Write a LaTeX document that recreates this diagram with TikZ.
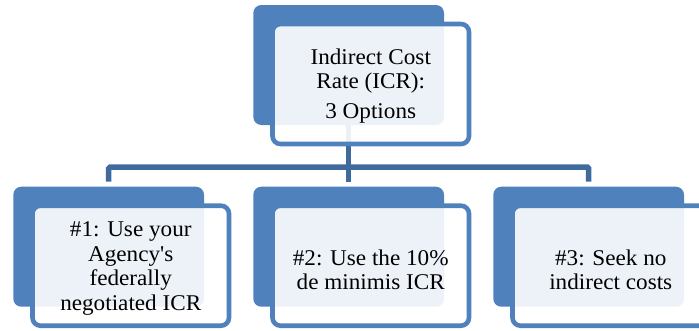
\documentclass[tikz,border=0pt]{standalone}
\usepackage{fontspec}
\setmainfont{Liberation Serif}[Ligatures=TeXOff, FakeStretch=1.03]
\usetikzlibrary{calc}
\definecolor{accent}{HTML}{4F81BD}
\definecolor{connblue}{HTML}{3F6A9C}
\begin{document}
\begin{tikzpicture}[x=1pt,y=-1pt,
  backbox/.style={rectangle, rounded corners=8pt, fill=accent, minimum width=190.7pt, minimum height=120pt, inner sep=0pt, outer sep=0pt, anchor=north west},
  frontbox/.style={rectangle, rounded corners=8pt, draw=accent, line width=4.6pt, fill=white, fill opacity=0.9, minimum width=196.5pt, minimum height=120pt, inner sep=0pt, outer sep=0pt, anchor=north west},
  conn/.style={draw=connblue, line width=5.5pt, rounded corners=1.5pt},
  txt/.style={align=center, font=\fontsize{22.5}{24.5}\selectfont, text=black, inner sep=0pt}]
\useasboundingbox (0,0) rectangle (699,330);
\clip (0,0) rectangle (699,330);
% back boxes
\node[backbox] (b0) at (253.3,5) {};
\node[backbox] (b1) at (13.3,186.7) {};
\node[backbox] (b2) at (253.3,186.7) {};
\node[backbox] (b3) at (493.3,186.7) {};
% connectors
\coordinate (hub) at ($(b0.south)+(0,42)$);
\draw[conn] (b0.south) -- ([yshift=5pt]b2.north);
\draw[conn] ([yshift=5pt]b1.north) |- (hub) -| ([yshift=5pt]b3.north);
% front boxes
\node[frontbox] (f0) at (272.5,24) {};
\node[frontbox] (f1) at (32.5,205.7) {};
\node[frontbox] (f2) at (272.5,205.7) {};
\node[frontbox] (f3) at (512.5,205.7) {};
% texts
\node[txt] (t0) at ($(f0.center)+(0,1.8)$) {Indirect Cost\\Rate (ICR):\\[5pt]3 Options};
\node[txt] (t1) at ($(f1.center)+(0,3)$) {\#1: Use your\\Agency's\\federally\\negotiated ICR};
\node[txt] (t2) at ($(f2.center)+(0,4.3)$) {\#2: Use the 10\%\\de minimis ICR};
\node[txt] (t3) at ($(f3.center)+(0,4.3)$) {\#3: Seek no\\indirect costs};
\end{tikzpicture}
\end{document}
